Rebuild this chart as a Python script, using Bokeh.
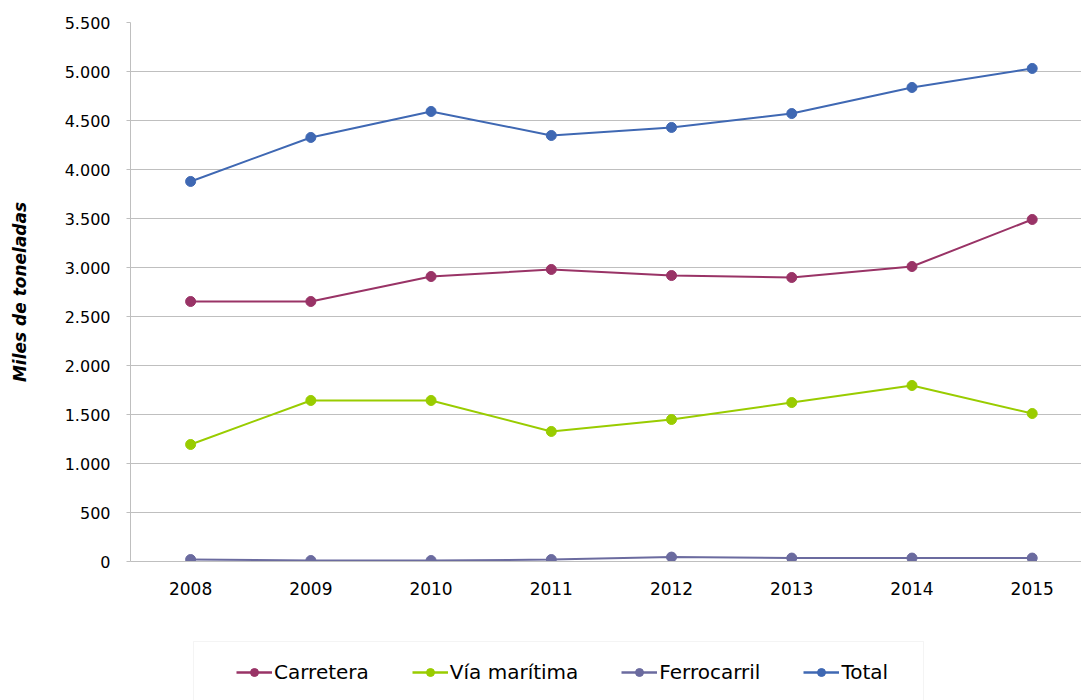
from bokeh.plotting import figure
from bokeh.layouts import column
from bokeh.models import (Range1d, FixedTicker, CustomJSTickFormatter, Legend, LegendItem,
                          BoxAnnotation, ColumnDataSource)
from bokeh.embed import file_html
from bokeh.resources import INLINE

# Miles de toneladas por modo de transporte
years = [2008, 2009, 2010, 2011, 2012, 2013, 2014, 2015]
carretera = [2653, 2653, 2908, 2980, 2918, 2898, 3010, 3490]
via_maritima = [1194, 1643, 1643, 1327, 1449, 1622, 1796, 1510]
ferrocarril = [20, 10, 10, 20, 45, 35, 35, 35]
total = [3878, 4327, 4592, 4347, 4429, 4571, 4837, 5031]

series = [
    ("Carretera", carretera, "#993366"),
    ("Vía marítima", via_maritima, "#99CC00"),
    ("Ferrocarril", ferrocarril, "#6B6B9F"),
    ("Total", total, "#3F68B3"),
]

y_ticks = list(range(0, 5501, 500))

FONT = "DejaVu Sans"
GRID = "#BFBFBF"
W = 1081
LEFT = 130

# ---- main chart ----
p = figure(width=W, height=640, output_backend="svg", toolbar_location=None,
           x_range=Range1d(2007.5, 2015.41), y_range=Range1d(0, 5500),
           min_border_left=LEFT, min_border_right=0, min_border_top=22,
           min_border_bottom=79)
p.outline_line_color = None
p.background_fill_color = "white"

p.xaxis.ticker = FixedTicker(ticks=years)
p.xaxis.major_tick_line_color = None
p.xaxis.minor_tick_line_color = None
p.xaxis.axis_line_color = GRID
p.xaxis.major_label_text_font = FONT
p.xaxis.major_label_text_font_size = "17px"
p.xaxis.major_label_text_color = "#000000"
p.xaxis.major_label_standoff = 14

p.yaxis.ticker = FixedTicker(ticks=y_ticks)
p.yaxis.formatter = CustomJSTickFormatter(
    code="return tick.toFixed(0).replace(/\\B(?=(\\d{3})+(?!\\d))/g, '.');")
p.yaxis.minor_tick_line_color = None
p.yaxis.major_tick_line_color = GRID
p.yaxis.major_tick_out = 4
p.yaxis.major_tick_in = 0
p.yaxis.axis_line_color = GRID
p.yaxis.major_label_text_font = FONT
p.yaxis.major_label_text_font_size = "16px"
p.yaxis.major_label_text_color = "#000000"
p.yaxis.major_label_standoff = 16
p.yaxis.axis_label = "Miles de toneladas"
p.yaxis.axis_label_text_font = FONT
p.yaxis.axis_label_text_font_size = "17px"
p.yaxis.axis_label_text_font_style = "bold italic"
p.yaxis.axis_label_text_color = "#000000"
p.yaxis.axis_label_standoff = 32

p.xgrid.grid_line_color = None
p.ygrid.grid_line_color = GRID
p.ygrid.grid_line_width = 1

for name, vals, color in series:
    src = ColumnDataSource(dict(x=years, y=vals))
    p.line("x", "y", source=src, line_color=color, line_width=2)
    p.scatter("x", "y", source=src, size=10, fill_color=color, line_color=color)

# ---- legend strip under the chart ----
# its frame lines up with the chart frame (x from LEFT to W); ranges are in page pixels,
# with y growing downward from the top of the strip
leg = figure(width=W, height=60, output_backend="svg", toolbar_location=None,
             x_range=Range1d(LEFT, W), y_range=Range1d(60, 0),
             x_axis_type=None, y_axis_type=None,
             min_border_left=LEFT, min_border_right=0, min_border_top=0,
             min_border_bottom=0)
leg.outline_line_color = None
leg.grid.visible = False

leg.add_layout(BoxAnnotation(left=193, right=923, top=1, bottom=80,
                             fill_color="white", fill_alpha=1,
                             line_color="#D9D9D9", line_width=1))

items = []
for name, vals, color in series:
    src = ColumnDataSource(dict(x=years, y=vals))
    ln = leg.line("x", "y", source=src, line_color=color, line_width=2.5, visible=False)
    pt = leg.scatter("x", "y", source=src, size=9, fill_color=color, line_color=color,
                     visible=False)
    items.append(LegendItem(label=name, renderers=[ln, pt]))

legend = Legend(items=items, orientation="horizontal", location=(236 - LEFT, 16),
                spacing=43, glyph_width=36, glyph_height=20,
                label_height=20, label_standoff=2, margin=0, padding=0,
                label_text_font=FONT, label_text_font_size="20px",
                label_text_color="#000000", border_line_color=None,
                background_fill_alpha=0)
leg.add_layout(legend, "center")

layout = column(p, leg, spacing=0)

open("out.html", "w").write(file_html(layout, INLINE))
